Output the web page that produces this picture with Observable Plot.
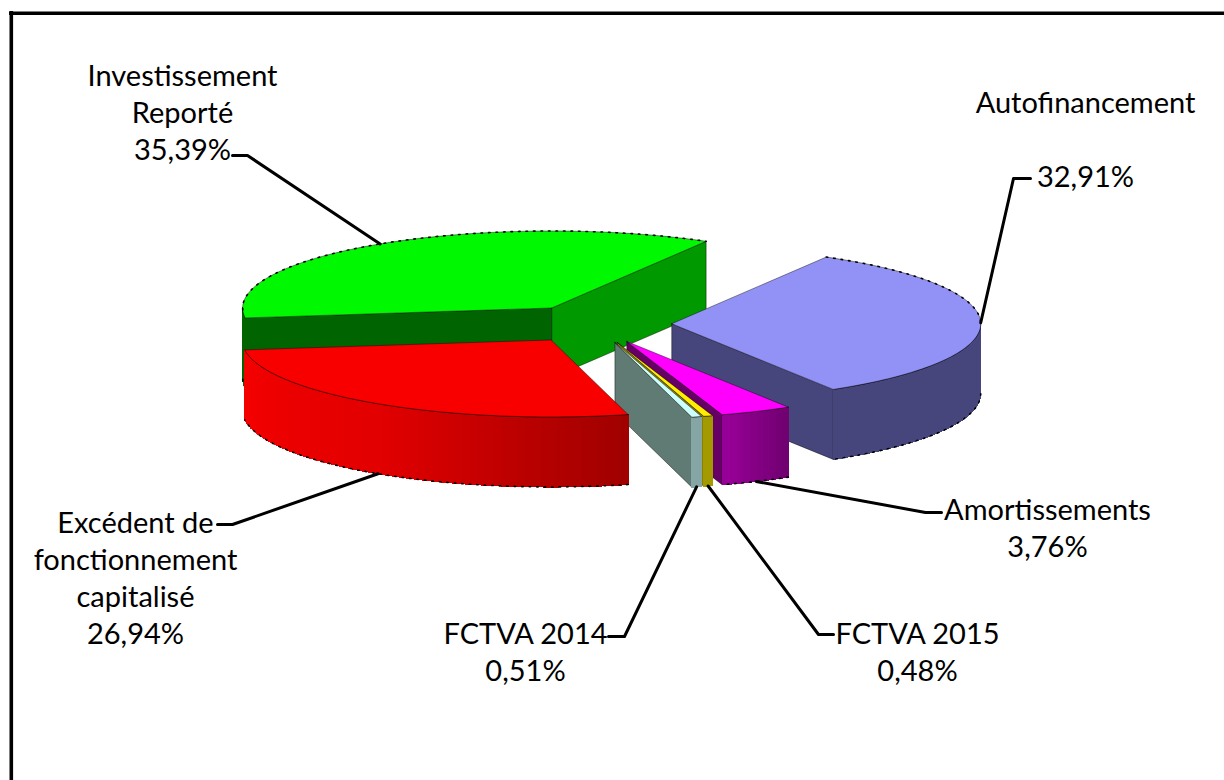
<!DOCTYPE html>
<html lang="fr">
<head>
<meta charset="utf-8">
<style>html,body{margin:0;padding:0;background:#fff;overflow:hidden}svg{display:block}</style>
<script src="https://cdn.jsdelivr.net/npm/d3@7"></script>
<script src="https://cdn.jsdelivr.net/npm/@observablehq/plot@0.6"></script>
</head>
<body>
<div id="chart"></div>
<script>
// Data: shares in %, in pie order (clockwise)
const categories = ["Autofinancement","Amortissements","FCTVA 2015","FCTVA 2014","Excédent de fonctionnement capitalisé","Investissement Reporté"];
const shares = [32.91,3.76,0.48,0.51,26.94,35.39];
const labelNames = ["Autofinancement\n","Amortissements","FCTVA 2015","FCTVA 2014","Excédent de\nfonctionnement\ncapitalisé","Investissement\nReporté"];

// Styles
const topColors = ["#9292f6","#ff00ff","#ffee00","#ccffff","#f80000","#00f800"];
const cutColors = ["#46467c","#660066","#8a8200","#5f7b74","#a00000","#009900"];
const cutStartColors = ["#46467c","#660066","#8a8200","#5f7b74","#a00000","#006400"];
const rimStops = [["#46467c","#46467c"],["#6f006f","#990099"],["#a39a00","#a39a00"],["#86a5a5","#86a5a5"],["#a00000","#e20000","#f50000"],["#006400","#006400"]];
const drawOrder = [5,0,1,2,3,4];

// Layout of the 3D projection
const W = 1224, H = 780;
const center = [594,323.5], rx = 309, ry = 77, depth = 70, explode = 0.25, startDeg = -60;
const labelAnchors = [[1085,138],[1047,526],[917,650],[525,650],[135,576],[182,111]];
const leaderStarts = [[1030,178],[941,512],[833,634],[608,636],[217,524],[232,155]];
const leaderElbows = [[1013,178],[925,512],[818,634],[624,636],[232,524],[247,155]];
const leaderAtBase = [false,true,true,true,true,false];

// Geometry derived from the values
const rad = d => d*Math.PI/180;
const total = d3.sum(shares);
let acc = startDeg;
const slices = shares.map((v,i)=>{
  const a0 = acc, a1 = acc + v/total*360; acc = a1;
  const am = (a0+a1)/2;
  const cx = center[0] + explode*rx*Math.cos(rad(am));
  const cy = center[1] + explode*ry*Math.sin(rad(am));
  return {i,a0,a1,am,cx,cy};
});
const P = (s,a,dz=0) => ({x:s.cx+rx*Math.cos(rad(a)), y:s.cy+ry*Math.sin(rad(a))+dz});
const arc = (s,a0,a1,dz=0) => { const n=Math.max(2,Math.ceil(Math.abs(a1-a0)/1.5)); return d3.range(n+1).map(k=>P(s,a0+(a1-a0)*k/n,dz)); };
const poly = (id,fill,pts) => [...pts,pts[0]].map(p=>({...p,id,fill}));
const visibleRim = s => { // portion of the rim facing the viewer
  const lo = Math.max(s.a0,0), hi = Math.min(s.a1,180);
  return hi>lo ? [lo,hi] : null;
};

const marks = [];
// page rules (top and left border)
marks.push(Plot.ruleY([12.8],{x1:9,x2:W,stroke:"#000",strokeWidth:3.6}));
marks.push(Plot.ruleX([10.8],{y1:11,y2:H,stroke:"#000",strokeWidth:3.6}));

for (const idx of drawOrder) {
  const s = slices[idx];
  const apex = {x:s.cx,y:s.cy}, apexB = {x:s.cx,y:s.cy+depth};
  const faces = [];
  if (Math.cos(rad(s.a1))>0) faces.push(poly(`c1${idx}`,cutColors[idx],[apex,P(s,s.a1),P(s,s.a1,depth),apexB]));
  if (Math.cos(rad(s.a0))<0) faces.push(poly(`c0${idx}`,cutStartColors[idx],[apex,P(s,s.a0),P(s,s.a0,depth),apexB]));
  marks.push(Plot.line(faces.flat(),{x:"x",y:"y",z:"id",fill:"fill",stroke:"#000",strokeOpacity:0.55,strokeWidth:0.8}));

  const vr = visibleRim(s);
  let rimEdge = [];
  if (vr) {
    const pts = arc(s,vr[0],vr[1]);
    const ramp = d3.piecewise(d3.interpolateRgb,rimStops[idx]);
    const quads = [];
    for (let k=0;k<pts.length-1;k++){
      const a=pts[k], b=pts[k+1];
      const col = ramp((k+0.5)/(pts.length-1));
      quads.push(poly(`r${idx}-${k}`,col,[a,b,{x:b.x,y:b.y+depth},{x:a.x,y:a.y+depth}]));
    }
    marks.push(Plot.line(quads.flat(),{x:"x",y:"y",z:"id",fill:"fill",stroke:"fill",strokeWidth:1.2,shapeRendering:"crispEdges"}));
    rimEdge = arc(s,vr[0],vr[1],depth);
    // fine line between top and rim
    marks.push(Plot.line(pts,{x:"x",y:"y",stroke:"#000",strokeOpacity:0.7,strokeWidth:0.9}));
  }
  // top surface
  const top = poly(`t${idx}`,topColors[idx],[apex,...arc(s,s.a0,s.a1)]);
  marks.push(Plot.line(top,{x:"x",y:"y",z:"id",fill:"fill",stroke:"#000",strokeOpacity:0.6,strokeWidth:0.7}));
  // jagged dark edge along the outer silhouette
  if (s.a1-s.a0>5) {
    const hiddenBack = arc(s,s.a0,s.a1).filter((p,j,all)=>{const a=s.a0+(s.a1-s.a0)*j/(all.length-1);return Math.sin(rad(a))<0.05;});
    marks.push(Plot.line(hiddenBack,{x:"x",y:"y",stroke:"#000",strokeWidth:1.6,strokeDasharray:"1.5 6"}));
    if (rimEdge.length) marks.push(Plot.line(rimEdge,{x:"x",y:"y",stroke:"#000",strokeWidth:1.6,strokeDasharray:"1.5 6"}));
  }
}

// Leaders: from the label elbow to the middle of the slice rim
const leaders = slices.flatMap((s,i)=>{
  const tip = P(s,s.am,leaderAtBase[i]?depth:0);
  return [
    {id:i,x:leaderStarts[i][0],y:leaderStarts[i][1]},
    {id:i,x:leaderElbows[i][0],y:leaderElbows[i][1]},
    {id:i,x:tip.x,y:tip.y}
  ];
});
marks.push(Plot.line(leaders,{x:"x",y:"y",z:"id",stroke:"#000",strokeWidth:3}));

// Labels
const fmt = v => v.toFixed(2).replace(".",",")+"%";
const labels = shares.map((v,i)=>({text:labelNames[i]+"\n"+fmt(v),x:labelAnchors[i][0],y:labelAnchors[i][1],name:categories[i]}));
marks.push(Plot.text(labels,{x:"x",y:"y",text:"text",fontFamily:"Lato, Carlito, sans-serif",fontSize:29,lineHeight:1.27,fill:"#000",textAnchor:"middle",lineAnchor:"middle"}));

const chart = Plot.plot({
  width:W,height:H,margin:0,
  x:{domain:[0,W],range:[0,W],axis:null},
  y:{domain:[0,H],range:[0,H],axis:null},
  color:{type:"identity"},
  style:{background:"#fff"},
  marks
});
document.getElementById("chart").append(chart);
</script>
</body>
</html>
